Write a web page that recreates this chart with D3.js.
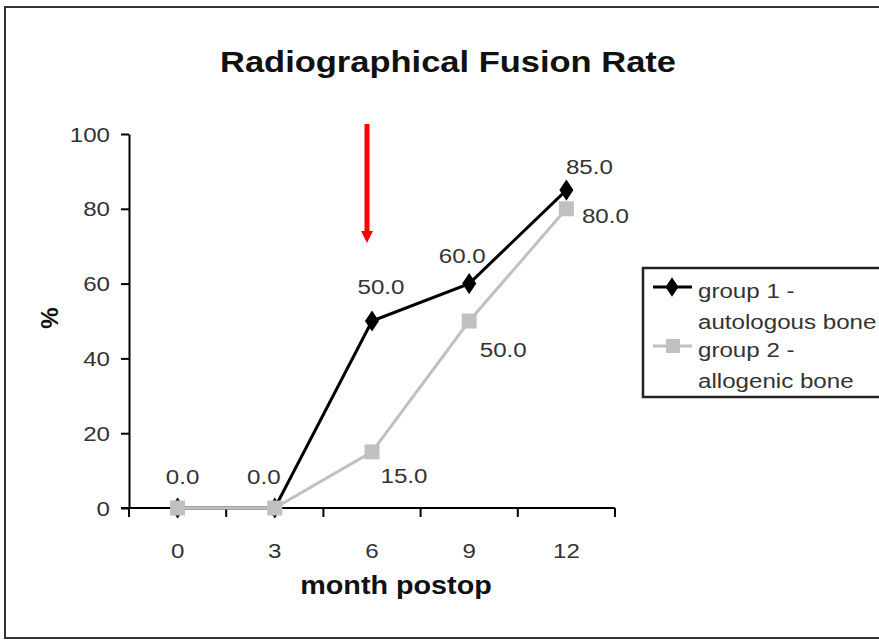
<!DOCTYPE html>
<meta charset="utf-8">
<title>Radiographical Fusion Rate</title>
<style>
body{margin:0;background:#fff;}
text{font-family:"Liberation Sans",Arial,sans-serif;fill:#333;}
.bold{font-weight:bold;fill:#111;}
</style>
<body>
<script src="https://cdn.jsdelivr.net/npm/d3@7"></script>
<script>

var months = ["0","3","6","9","12"];
var group1 = [0, 0, 50, 60, 85];
var group2 = [0, 0, 15, 50, 80];
var yTicks = [0, 20, 40, 60, 80, 100];
var names = ["group 1 -\nautologous bone", "group 2 -\nallogenic bone"];

// hand-placed excel label offsets (dx, dy) per point, null = no label
var off1 = [[5,-24],[-11,-24],[9,-27],[-7,-21],[23,-16]];
var off2 = [null,null,[32,31],[34,36],[39,14]];

var W = 879, H = 641, SX = 1.15;

var svg = d3.select("body").append("svg").attr("width", W).attr("height", H);

// chart border
svg.append("rect").attr("x",5).attr("y",7).attr("width",W).attr("height",631)
	.attr("fill","none").attr("stroke","#333").attr("stroke-width",2);

var x = d3.scaleBand().domain(months).range([129,615]);
var y = d3.scaleLinear().domain([0,100]).range([508,134]);

function txt(g, px, py, s, size, cls, anchor){
	return g.append("text")
		.attr("transform","translate("+px+","+py+") scale("+SX+",1)")
		.attr("class",cls||null)
		.attr("text-anchor",anchor||"middle")
		.style("font-size",size+"px")
		.text(s);
}

txt(svg, 448, 72, "Radiographical Fusion Rate", 30, "bold");

// y axis
var ya = svg.append("g").attr("transform","translate(129,0)")
	.call(d3.axisLeft(y).tickValues(yTicks).tickSize(8).tickSizeOuter(0).tickFormat(""));
ya.select(".domain").attr("stroke","#000").attr("stroke-width",2);
ya.selectAll(".tick line").attr("stroke","#000").attr("stroke-width",2);
yTicks.forEach(function(v){ txt(svg, 110, y(v)+7.5, String(v), 21, null, "end"); });

// x axis, ticks between categories
var xa = svg.append("g").attr("transform","translate(0,508)");
xa.append("line").attr("x1",121).attr("x2",x.range()[1]).attr("stroke","#000").attr("stroke-width",2);
var bounds = months.map(function(m){ return x(m); }).concat([x.range()[1]]);
xa.selectAll(".xt").data(bounds).enter().append("line")
	.attr("x1",d=>d).attr("x2",d=>d).attr("y1",0).attr("y2",9)
	.attr("stroke","#000").attr("stroke-width",2);
months.forEach(function(m){ txt(svg, x(m)+x.bandwidth()/2, 558, m, 21); });

txt(svg, 396, 594, "month postop", 25, "bold");
svg.append("text").attr("class","bold")
	.attr("transform","translate(58,318) rotate(-90)")
	.attr("text-anchor","middle").style("font-size","24px").text("%");

var cx = function(i){ return x(months[i]) + x.bandwidth()/2; };
var line = d3.line().x((d,i)=>cx(i)).y(d=>y(d));

// series 1 (black, diamonds)
svg.append("path").datum(group1).attr("d",line)
	.attr("fill","none").attr("stroke","#000").attr("stroke-width",3);
svg.selectAll(".d1").data(group1).enter().append("path")
	.attr("d", d3.symbol().type(d3.symbolDiamond).size(130))
	.attr("transform",(d,i)=>"translate("+cx(i)+","+y(d)+") scale(1.15,1)")
	.attr("fill","#000");

// series 2 (grey, squares) drawn on top
svg.append("path").datum(group2).attr("d",line)
	.attr("fill","none").attr("stroke","#c0c0c0").attr("stroke-width",3);
svg.selectAll(".d2").data(group2).enter().append("rect")
	.attr("x",(d,i)=>cx(i)-7.5).attr("y",d=>y(d)-7.5)
	.attr("width",15).attr("height",15).attr("fill","#c0c0c0");

group1.forEach(function(v,i){
	if(off1[i]) txt(svg, cx(i)+off1[i][0], y(v)+off1[i][1], v.toFixed(1), 21);
});
group2.forEach(function(v,i){
	if(off2[i]) txt(svg, cx(i)+off2[i][0], y(v)+off2[i][1], v.toFixed(1), 21);
});

// red arrow at 6 months
var ax = cx(2) - 5;
svg.append("rect").attr("x",ax-2.5).attr("y",124).attr("width",5).attr("height",108).attr("fill","#f00");
svg.append("path").attr("d","M"+(ax-6)+",231 L"+(ax+6)+",231 L"+ax+",243 Z").attr("fill","#f00");

// legend
var lg = svg.append("g");
lg.append("rect").attr("x",643).attr("y",268).attr("width",W).attr("height",129)
	.attr("fill","#fff").attr("stroke","#222").attr("stroke-width",2.5);
[0,1].forEach(function(k){
	var ly = [287,346][k];
	lg.append("line").attr("x1",653).attr("x2",692).attr("y1",ly).attr("y2",ly)
		.attr("stroke",k? "#c0c0c0":"#000").attr("stroke-width",3);
	if(k) lg.append("rect").attr("x",666).attr("y",ly-7).attr("width",14).attr("height",14).attr("fill","#c0c0c0");
	else lg.append("path").attr("d",d3.symbol().type(d3.symbolDiamond).size(110)).attr("transform","translate(672,"+ly+") scale(1.15,1)");
	names[k].split("\n").forEach(function(s,j){
		txt(lg, 698, [298,357][k] + j*31, s, 21, null, "start");
	});
});

</script>
</body>
